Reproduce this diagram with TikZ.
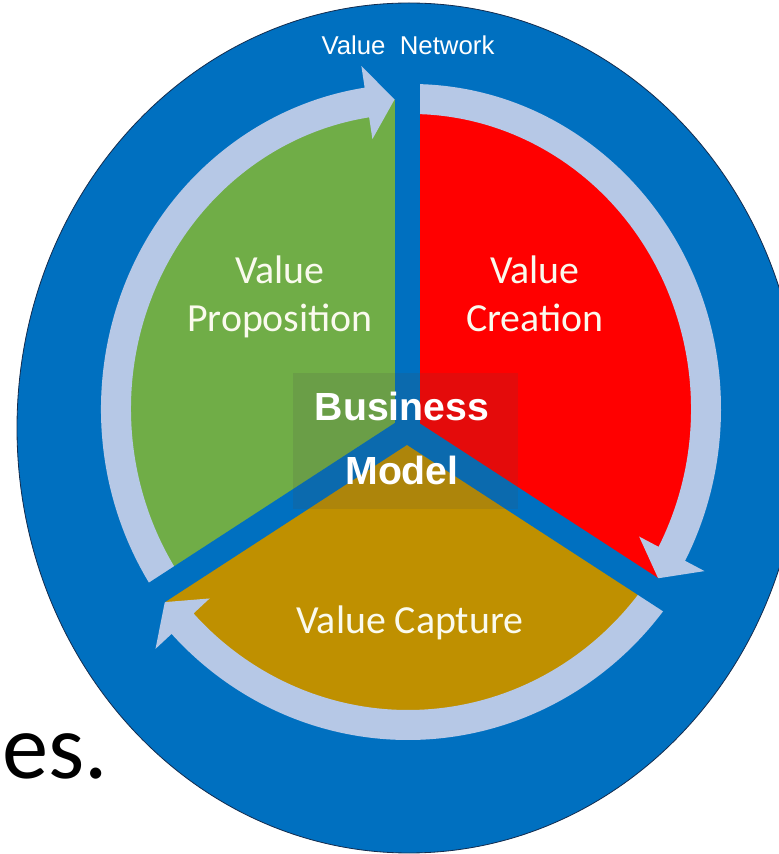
\documentclass[tikz,border=0pt]{standalone}
\usepackage{fontspec}
\setmainfont{Carlito}
\newfontfamily\arialfont{Liberation Sans}
\usetikzlibrary{calc}

\definecolor{netblue}{RGB}{0,112,192}
\definecolor{rimdark}{RGB}{20,45,80}
\definecolor{ringblue}{RGB}{182,200,230}
\definecolor{propgreen}{RGB}{112,173,71}
\definecolor{creatred}{RGB}{255,0,0}
\definecolor{captgold}{RGB}{191,144,0}
\definecolor{labeltext}{RGB}{250,250,238}

\begin{document}
\begin{tikzpicture}[x=0.03cm,y=0.03cm,
	ring/.style={fill=ringblue},
	band/.style={fill=netblue},
	sectortext/.style={text=labeltext,font=\fontsize{34}{41}\selectfont,align=center,inner sep=0pt},
	nettext/.style={text=white,font=\arialfont\fontsize{22}{26}\selectfont,inner sep=0pt},
	bmtext/.style={text=white,font=\arialfont\bfseries\fontsize{33.5}{54.6}\selectfont,align=center,inner sep=0pt}
]
%\draw[help lines] (0,0) grid (779,854);
	\useasboundingbox (0,0) rectangle (779,854);
	\coordinate (C) at (411,445);
	\coordinate (Cb) at (408,447);
	\coordinate (O) at (407,424);

	% outer disc
	\fill[netblue] (409,426) ellipse [x radius=392, y radius=425];

	% the three sectors
	\begin{scope}
		\clip (C) ellipse [x radius=295, y radius=310];
		\fill[propgreen] (O) -- (407,900) -- (0,900) -- (0,160) -- cycle;
		\fill[creatred] (O) -- (407,900) -- (800,900) -- (800,169) -- cycle;
	\end{scope}
	\begin{scope}
		\clip (Cb) ellipse [x radius=308, y radius=318];
		\fill[captgold] (O) -- (0,160) -- (0,0) -- (800,0) -- (800,169) -- cycle;
	\end{scope}

	% ring arrows: start / tip / barb angles
	\foreach \sa/\ta/\ba in {214/93.2/98.6, 89/-33.1/-27.85}
		\fill[ring] ($(C)+(\sa:310 and 325)$) arc [start angle=\sa, end angle=\ba, x radius=310, y radius=325]
			-- ($(C)+(\ba:332 and 347)$) -- ($(C)+(\ta:295 and 310)$) -- ($(C)+(\ba:258 and 273)$)
			-- ($(C)+(\ba:280 and 295)$) arc [start angle=\ba, end angle=\sa, x radius=280, y radius=295] -- cycle;
	% the lower one sits a little wider
	\fill[ring] ($(Cb)+(-36:323 and 333)$) arc [start angle=-36, end angle=-137.05, x radius=323, y radius=333]
		-- ($(Cb)+(-137.05:345 and 355)$) -- ($(Cb)+(-142.15:308 and 318)$) -- ($(Cb)+(-137.05:271 and 281)$)
		-- ($(Cb)+(-137.05:293 and 303)$) arc [start angle=-137.05, end angle=-36, x radius=293, y radius=303] -- cycle;

	% dividers
	\begin{scope}[shift={(O)}]
		\foreach \a in {90,213,327}
			\fill[band,rotate=\a] (0,-12.5) rectangle (360,12.5);
	\end{scope}

	\draw[rimdark,line width=0.7pt] (409,426) ellipse [x radius=392, y radius=425];

	\node[nettext,anchor=base] (network) at (408,799) {Value\ \ Network};
	\node[sectortext] (prop) at (280,557) {Value\\Proposition};
	\node[sectortext] (creat) at (535,560) {Value\\Creation};
	\node[sectortext] (capt) at (410,231) {Value Capture};

	\fill[gray!60!black,fill opacity=0.15] (293,345) rectangle (518,481);
	\node[bmtext] (bm) at (402,416) {Business\\Model};

	\node[font=\fontsize{79}{90}\selectfont,anchor=base west,inner sep=0pt] (es) at (2,75) {es.};
\end{tikzpicture}
\end{document}
